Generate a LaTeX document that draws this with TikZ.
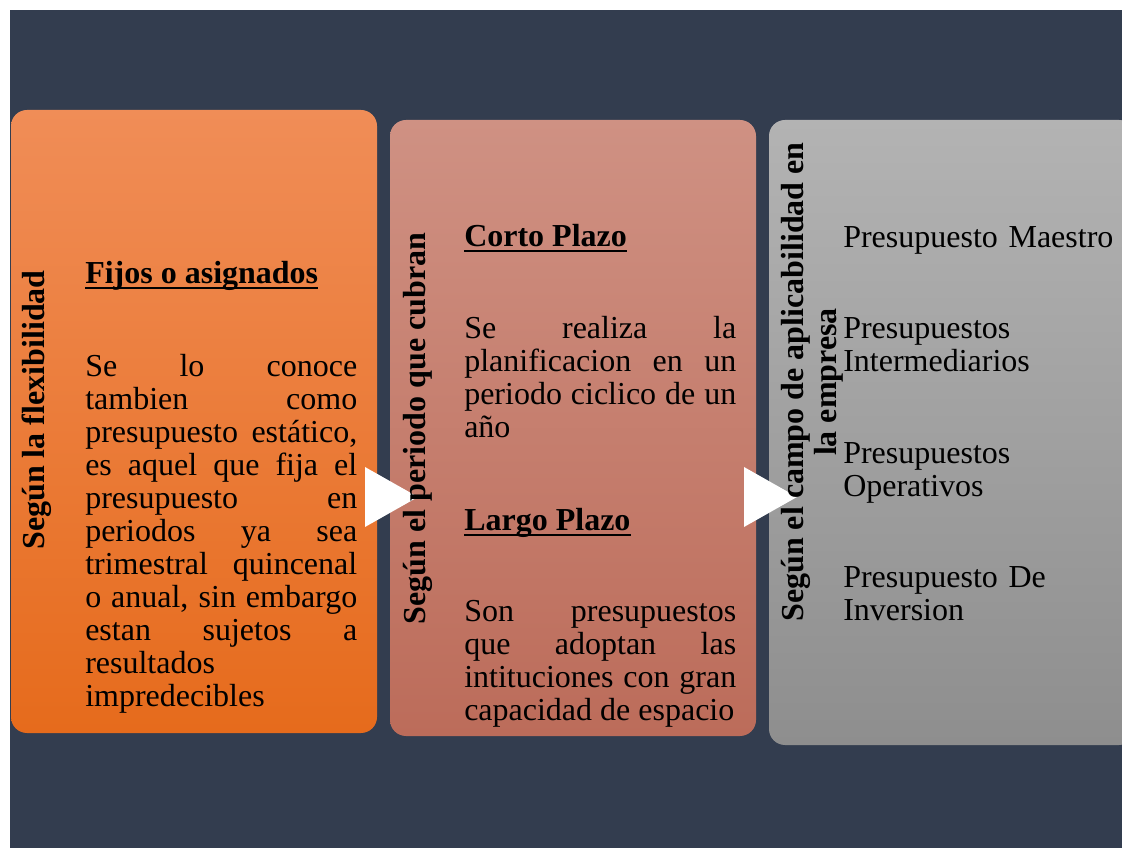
\documentclass[tikz,border=0pt]{standalone}
\usepackage{fontspec}
\setmainfont{Liberation Serif}
\definecolor{bgdark}{HTML}{333D4F}
\definecolor{orTop}{HTML}{F08D57}
\definecolor{orBot}{HTML}{E66B1C}
\definecolor{rsTop}{HTML}{CF9183}
\definecolor{rsBot}{HTML}{BC6C5A}
\definecolor{grTop}{HTML}{B3B3B3}
\definecolor{grBot}{HTML}{8E8E8E}
\tolerance=10000
\hbadness=10000
\hyphenpenalty=10000
\tikzset{
  panel/.style={rounded corners=12pt, inner sep=0pt, minimum width=274.5pt},
  body/.style={font=\fontsize{24}{24.75}\selectfont, inner sep=0pt, text width=204pt, align=justify, anchor=north west},
  itemtxt/.style={font=\fontsize{24}{24.75}\selectfont, inner sep=0pt, text width=204pt, align=left, anchor=north west},
  headtxt/.style={font=\fontsize{24}{24.75}\selectfont\bfseries, inner sep=0pt, anchor=base west},
  vtitle/.style={font=\fontsize{24}{24.75}\selectfont\bfseries, inner sep=0pt, rotate=90, anchor=base},
  uline/.style={line width=1.6pt},
  tri/.style={fill=white}
}
\begin{document}
\begin{tikzpicture}[x=0.75pt,y=-0.75pt]
\useasboundingbox (0,0) rectangle (1122,848);
\clip (0,0) rectangle (1122,848);
\fill[white] (0,0) rectangle (1122,848);
\fill[bgdark] (10,10) rectangle (1122,848);

% panels
\node[panel, minimum height=467.25pt, top color=orTop, bottom color=orBot] (p1) at (194,421.5) {};
\node[panel, minimum height=462pt, top color=rsTop, bottom color=rsBot] (p2) at (573,428) {};
\node[panel, minimum height=468.75pt, top color=grTop, bottom color=grBot] (p3) at (952,432.5) {};

% arrows
\coordinate (a1) at (365,467);
\coordinate (a2) at (744,467);
\fill[tri] (a1) -- ++(53,30) -- ++(-53,30) -- cycle;
\fill[tri] (a2) -- ++(53,30) -- ++(-53,30) -- cycle;

% vertical titles
\node[vtitle] (v1) at (45,410) {Según la flexibilidad};
\node[vtitle] (v2) at (425,428.5) {Según el periodo que cubran};
\node[vtitle] (v3a) at (803,382) {Según el campo de aplicabilidad en};
\node[vtitle] (v3b) at (836,382) {la empresa};

% panel 1
\node[headtxt] (h1) at (85,284) {Fijos o asignados};
\draw[uline] ([yshift=-3pt]h1.base west) -- ([yshift=-3pt]h1.base east);
\node[body] (t1) at (85,352.9) {\strut Se lo conoce\linebreak tambien como\linebreak presupuesto estático,\linebreak es aquel que fija el\linebreak presupuesto en\linebreak periodos ya sea\linebreak trimestral quincenal\linebreak o anual, sin embargo\linebreak estan sujetos a\linebreak resultados\linebreak impredecibles};

% panel 2
\node[headtxt] (h2) at (464,247) {Corto Plazo};
\draw[uline] ([yshift=-3pt]h2.base west) -- ([yshift=-3pt]h2.base east);
\node[body] (t2) at (464,314.9) {\strut Se realiza la\linebreak planificacion en un\linebreak periodo ciclico de un\linebreak año};
\node[headtxt] (h3) at (464,531) {Largo Plazo};
\draw[uline] ([yshift=-3pt]h3.base west) -- ([yshift=-3pt]h3.base east);
\node[body] (t3) at (464,597.9) {\strut Son presupuestos\linebreak que adoptan las\linebreak intituciones con gran\linebreak capacidad de espacio};

% panel 3
\node[itemtxt] (i1) at (843,223.9) {\strut Presupuesto Maestro};
\node[itemtxt] (i2) at (843,314.9) {\strut Presupuestos\\Intermediarios};
\node[itemtxt] (i3) at (843,439.9) {\strut Presupuestos\\Operativos};
\node[itemtxt] (i4) at (843,563.9) {\strut Presupuesto De\\Inversion};
\end{tikzpicture}
\end{document}
